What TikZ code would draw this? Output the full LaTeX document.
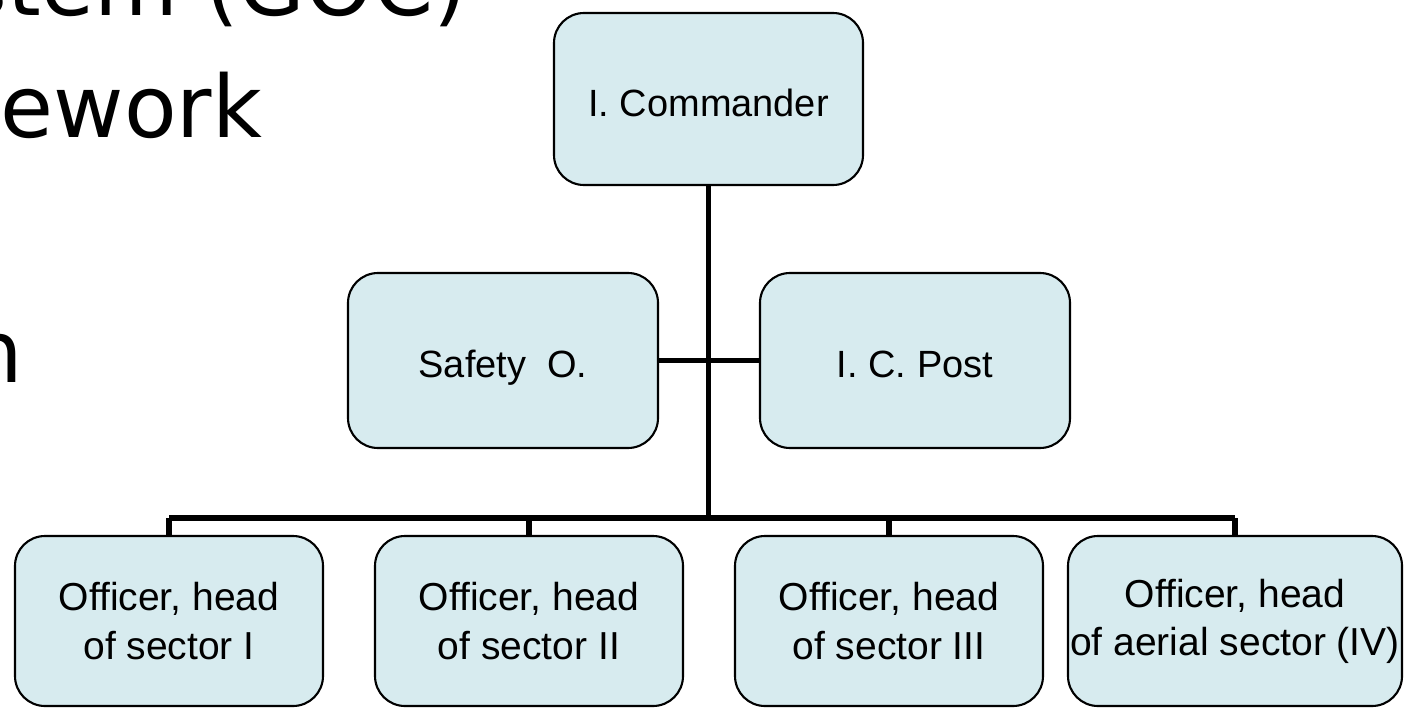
\documentclass[tikz,border=0pt]{standalone}
\usepackage{fontspec}
\setmainfont{Liberation Sans}
\newfontfamily\slidefont{DejaVu Sans}
\definecolor{boxfill}{RGB}{215,235,239}

\tikzstyle{post}=[draw,line width=0.6pt,fill=boxfill,rounded corners=0.3cm,minimum width=3.09cm,minimum height=1.72cm,inner sep=0pt,text height=9.7pt,text depth=0pt,font=\fontsize{10.8}{13.7}\selectfont]
\tikzstyle{sector}=[draw,line width=0.6pt,fill=boxfill,rounded corners=0.3cm,minimum width=3.08cm,minimum height=1.70cm,inner sep=0pt,align=center,font=\fontsize{11.1}{13.7}\selectfont]
\tikzstyle{link}=[line width=1.7pt]
\tikzstyle{slide}=[inner sep=0pt,font=\slidefont\fontsize{24.5}{29}\selectfont]

\begin{document}
\begin{tikzpicture}
  \useasboundingbox (0,0) rectangle (14.06,-7.07);
  \clip (0,0) rectangle (14.06,-7.07);

  \node (t1)[slide,anchor=base east] at (4.68,-0.15) {stem (GOC)};
  \node (t2)[slide,anchor=base west] at (0,-1.37) {ework};
  \node (t3)[slide,anchor=base east] at (0.24,-3.82) {n};

  \node (ic)[post] at (7.085,-0.99) {I. Commander};
  \node (so)[post,minimum width=3.10cm,minimum height=1.75cm] at (5.03,-3.605) {Safety~ O.};
  \node (cp)[post,minimum width=3.10cm,minimum height=1.75cm] at (9.15,-3.605) {I. C. Post};
  \node (s1)[sector] at (1.69,-6.21) {Officer, head\\of sector I};
  \node (s2)[sector] at (5.29,-6.21) {Officer, head\\of sector II};
  \node (s3)[sector] at (8.89,-6.21) {Officer, head\\of sector III};
  \node (s4)[sector,minimum width=3.34cm] at (12.35,-6.21) {Officer, head\\of aerial sector (IV)};

  \coordinate (bar) at (7.10,-5.18);

    \draw[link] (ic.south) -- (ic.south |- bar);
    \draw[link] (so.east) -- (cp.west);
    \draw[link] (s1.north |- bar) -- (s4.north |- bar);

    \foreach \i in {1, ..., 4}{
        \draw[link] (s\i.north |- bar) -- (s\i.north);
    }
\end{tikzpicture}
\end{document}
